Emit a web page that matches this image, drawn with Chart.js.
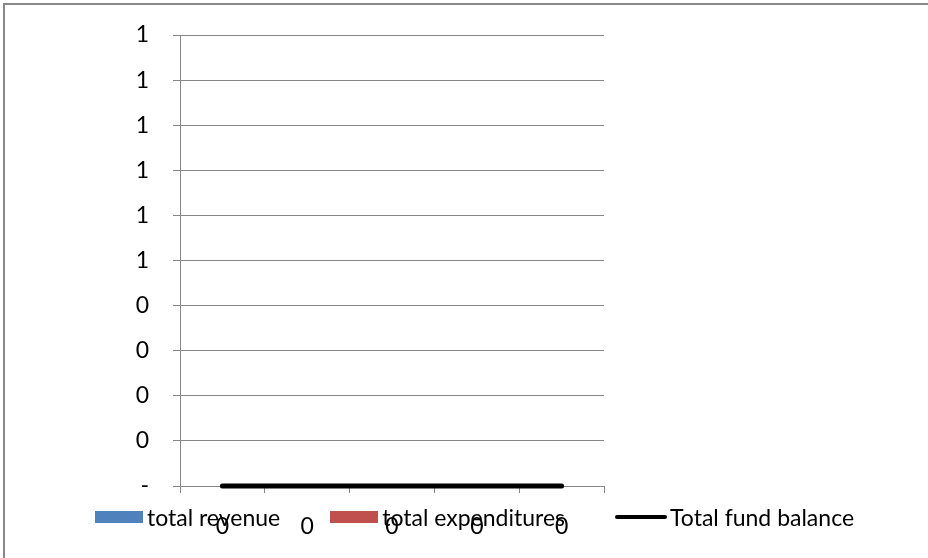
<!DOCTYPE html>
<html>
<head>
<meta charset="utf-8">
<script src="https://cdn.jsdelivr.net/npm/chart.js@4.4.1/dist/chart.umd.min.js"></script>
<style>
  html, body { margin: 0; padding: 0; background: #fff; }
  #wrap { position: relative; width: 928px; height: 558px; overflow: hidden; }
  #frame { position: absolute; left: 3px; top: 3px; width: 940px; height: 570px;
           border-top: 2px solid #898989; border-left: 2px solid #898989; }
  #chart { position: absolute; left: 0; top: 0; }
  #legend { position: absolute; left: 0; width: 949px; top: 503px; display: flex;
            justify-content: center; gap: 50px; font-family: Lato, sans-serif; font-size: 23px; color: #000; }
  .item { display: flex; align-items: center; white-space: nowrap; }
  .swatch { width: 48px; height: 12px; margin-right: 4px; }
  .lineswatch { width: 52px; height: 4px; border-radius: 2px; margin-right: 3px; }
</style>
</head>
<body>
<div id="wrap">
  <div id="frame"></div>
  <canvas id="chart" width="928" height="558"></canvas>
  <div id="legend"></div>
</div>
<script>
// categories (x labels as shown in the picture)
const CATEGORIES = ["0", "0", "0", "0", "0"];

// series values
const REVENUE = [0, 0, 0, 0, 0];
const EXPENDITURES = [0, 0, 0, 0, 0];
const FUND_BALANCE = [0, 0, 0, 0, 0];

// y tick labels, bottom to top (0 .. 1 by 0.1, shown with no decimals)
const Y_TICK_LABELS = ["-", "0", "0", "0", "0", "1", "1", "1", "1", "1", "1"];

const GRID = "#868686";
const FONT = { family: "Lato, sans-serif", size: 23 };

const chart = new Chart(document.getElementById("chart"), {
    type: "bar",
    data: {
        labels: CATEGORIES,
        datasets: [
            { label: "total revenue", data: REVENUE, backgroundColor: "#4F81BD", borderWidth: 0, order: 2 },
            { label: "total expenditures", data: EXPENDITURES, backgroundColor: "#C0504D", borderWidth: 0, order: 3 },
            {
                type: "line", label: "Total fund balance", data: FUND_BALANCE,
                borderColor: "#000", backgroundColor: "#000", borderWidth: 5,
                borderCapStyle: "round", pointRadius: 0, tension: 0, clip: false, order: 1
            }
        ]
    },
    options: {
        responsive: false,
        animation: false,
        layout: { autoPadding: false, padding: { left: 0, right: 324, top: 35, bottom: 0 } },
        plugins: { legend: { display: false }, tooltip: { enabled: false } },
        scales: {
            x: {
                offset: true,
                grid: { offset: true, drawOnChartArea: false, tickLength: 7, color: GRID, lineWidth: 1 },
                border: { color: GRID, width: 1 },
                ticks: { color: "#000", font: FONT, padding: 20, maxRotation: 0, autoSkip: false },
                afterFit: (s) => { s.height = 72; s.paddingLeft = 0; s.paddingRight = 0; }
            },
            y: {
                min: 0, max: 1,
                grid: { color: GRID, tickLength: 7, lineWidth: 1 },
                border: { color: GRID, width: 1 },
                ticks: {
                    stepSize: 0.1, color: "#000", font: FONT, padding: 24,
                    callback: (v, i) => Y_TICK_LABELS[i]
                },
                afterFit: (s) => { s.width = 180; s.paddingTop = 0; s.paddingBottom = 0; }
            }
        }
    }
});

// legend built from the chart's datasets
const legend = document.getElementById("legend");
chart.data.datasets.forEach((ds) => {
    const item = document.createElement("div");
    item.className = "item";
    const sw = document.createElement("span");
    sw.className = ds.type === "line" ? "lineswatch" : "swatch";
    sw.style.background = ds.type === "line" ? ds.borderColor : ds.backgroundColor;
    const txt = document.createElement("span");
    txt.textContent = ds.label;
    item.appendChild(sw);
    item.appendChild(txt);
    legend.appendChild(item);
});
</script>
</body>
</html>
